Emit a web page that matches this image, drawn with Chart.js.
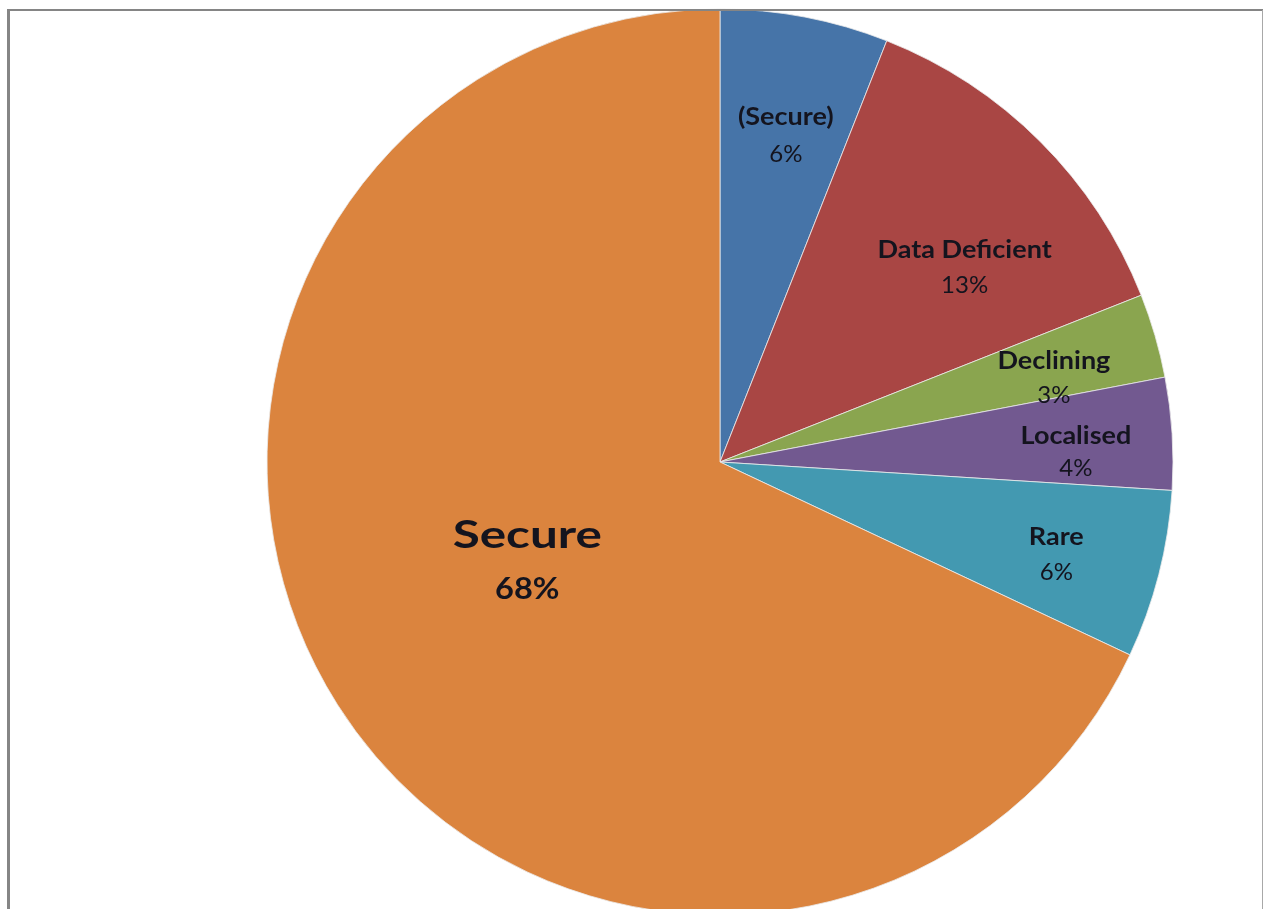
<!DOCTYPE html>
<html>
<head>
<meta charset="utf-8">
<script src="https://cdn.jsdelivr.net/npm/chart.js@4"></script>
<style>
  html, body { margin: 0; padding: 0; background: #fff; overflow: hidden; }
  #wrap { position: absolute; left: 0; top: 0; width: 1263px; height: 924px; }
</style>
</head>
<body>
<div id="wrap"><canvas id="pie"></canvas></div>
<script>
// status categories, clockwise from 12 o'clock
var categories = ['(Secure)', 'Data Deficient', 'Declining', 'Localised', 'Rare', 'Secure'];
var shares = [6, 13, 3, 4, 6, 68];
var sliceColors = ['#4674a8', '#a94644', '#8aa54f', '#725990', '#4399b1', '#db843e'];

// label placement: fraction of radius, and a small turn (deg) off the mid-angle
var labelStyle = {
    radius: [0.735, 0.69, 0.76, 0.786, 0.77, 0.48],
    turn: [0.6, 6.5, 2.1, 2.0, 1.0, 4.8],
    nameFont: ['bold 25px Lato', 'bold 25px Lato', 'bold 25px Lato', 'bold 25px Lato', 'bold 25px Lato', 'bold 38px Lato'],
    nameStretch: [1.08, 1.08, 1.08, 1.08, 1.08, 1.3],
    valueFont: ['24px Lato', '24px Lato', '24px Lato', '24px Lato', '24px Lato', 'bold 31px Lato'],
    valueStretch: [1, 1, 1, 1, 1, 1.05],
    gap: [38, 35, 35, 33, 35, 53]
};

function wideText(ctx, text, x, y, sx) {
    ctx.save();
    ctx.translate(x, y);
    ctx.scale(sx, 1);
    ctx.fillText(text, 0, 0);
    ctx.restore();
}

var sliceLabels = {
    id: 'sliceLabels',
    afterDatasetsDraw: function(chart) {
        var ctx = chart.ctx;
        var arcs = chart.getDatasetMeta(0).data;
        var total = shares.reduce(function(a, b) { return a + b; }, 0);
        ctx.save();
        ctx.textAlign = 'center';
        ctx.textBaseline = 'middle';
        ctx.fillStyle = '#14141e';
        arcs.forEach(function(arc, i) {
            var p = arc.getProps(['x', 'y', 'startAngle', 'endAngle', 'outerRadius'], true);
            var mid = (p.startAngle + p.endAngle) / 2 + labelStyle.turn[i] * Math.PI / 180;
            var r = p.outerRadius * labelStyle.radius[i];
            var cx = p.x + r * Math.cos(mid);
            var cy = p.y + r * Math.sin(mid);
            var g = labelStyle.gap[i];
            ctx.font = labelStyle.nameFont[i];
            wideText(ctx, categories[i], cx, cy - g / 2, labelStyle.nameStretch[i]);
            ctx.font = labelStyle.valueFont[i];
            wideText(ctx, Math.round(shares[i] / total * 100) + '%', cx, cy + g / 2, labelStyle.valueStretch[i]);
        });
        ctx.restore();
    }
};

// grey chart frame (left, top, right edges)
var chartFrame = {
    id: 'chartFrame',
    afterDraw: function(chart) {
        var ctx = chart.ctx;
        ctx.save();
        ctx.strokeStyle = '#858585';
        ctx.lineWidth = 3;
        ctx.beginPath();
        ctx.moveTo(8.5, 9);
        ctx.lineTo(8.5, 924);
        ctx.stroke();
        ctx.lineWidth = 2;
        ctx.beginPath();
        ctx.moveTo(7, 10);
        ctx.lineTo(1263, 10);
        ctx.stroke();
        ctx.strokeStyle = '#a8a8a8';
        ctx.lineWidth = 1;
        ctx.beginPath();
        ctx.moveTo(1262.5, 10);
        ctx.lineTo(1262.5, 924);
        ctx.stroke();
        ctx.restore();
    }
};

new Chart(document.getElementById('pie'), {
    type: 'pie',
    data: {
        labels: categories,
        datasets: [{
            data: shares,
            backgroundColor: sliceColors,
            borderColor: 'rgba(235,235,235,0.8)',
            borderWidth: 1
        }]
    },
    options: {
        responsive: true,
        maintainAspectRatio: false,
        animation: false,
        radius: 453,
        layout: { padding: { left: 177, right: 0, top: 0, bottom: 0 } },
        plugins: {
            legend: { display: false },
            tooltip: { enabled: false }
        }
    },
    plugins: [sliceLabels, chartFrame]
});
</script>
</body>
</html>
